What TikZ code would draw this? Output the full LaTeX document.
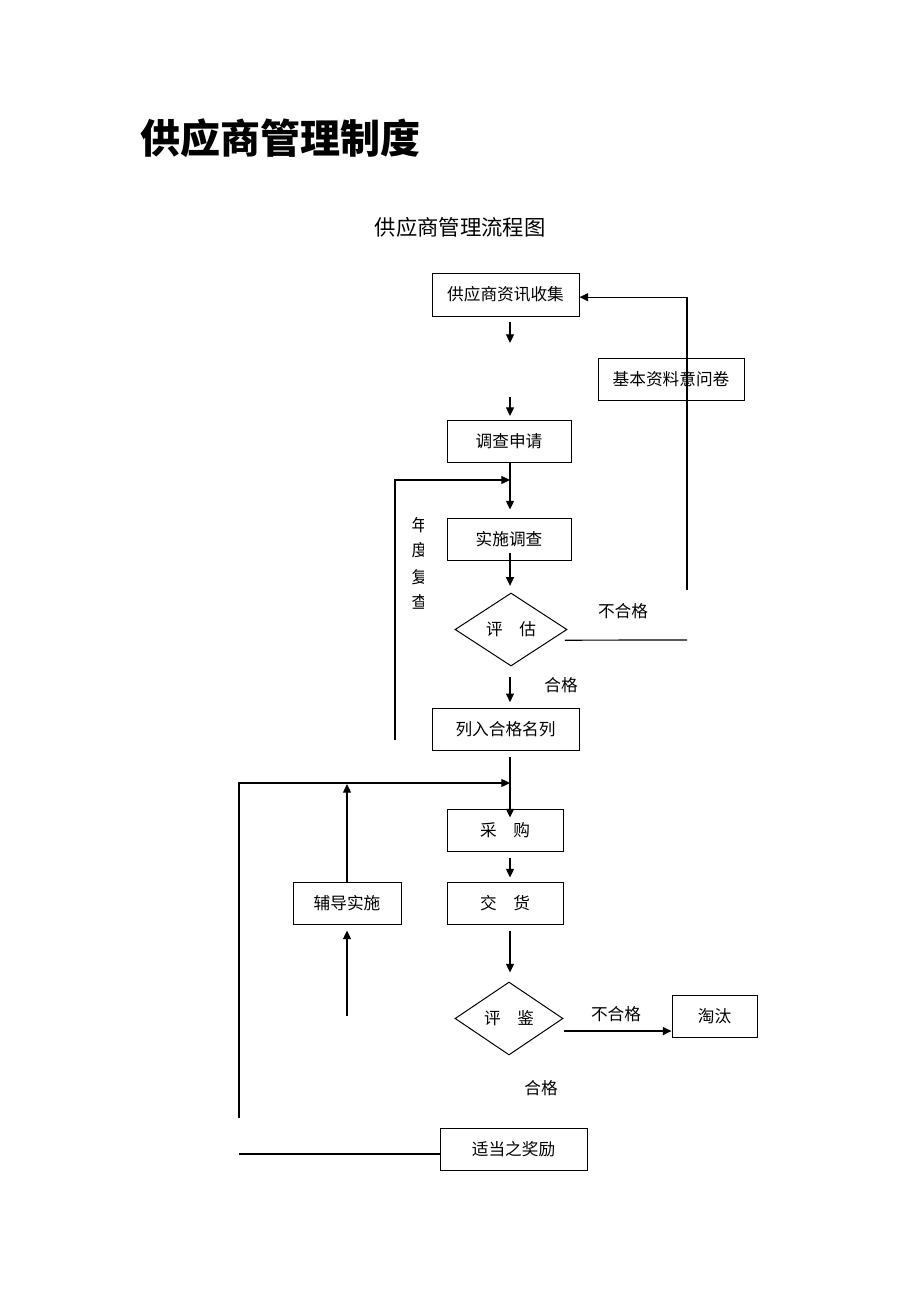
\documentclass[tikz,border=0pt]{standalone}
\usepackage{fontspec}
\newfontfamily\cjk{Noto Sans CJK SC}
\usetikzlibrary{arrows.meta,shapes.geometric}
\begin{document}
\begin{tikzpicture}[x=0.75pt,y=-0.75pt,
  txt/.style={font=\cjk\fontsize{12.5}{14}\selectfont},
  box/.style={draw, line width=0.75pt, inner sep=0pt, txt},
  dia/.style={draw, diamond, line width=0.75pt, inner sep=0pt, txt, minimum height=54.75pt},
  lbl/.style={inner sep=0pt, txt},
  ln/.style={line width=0.9pt},
  arr/.style={ln, -{Triangle[length=6.5pt,width=6pt]}}]
\fill[white] (0,0) rectangle (920,1302);
\useasboundingbox (0,0) rectangle (920,1302);

% titles
\node[anchor=west, inner sep=0pt, font=\cjk\bfseries\fontsize{30}{36}\selectfont] (title) at (140,138) {供应商管理制度};
\node[inner sep=0pt, font=\cjk\fontsize{16}{19}\selectfont] (sub) at (460,227) {供应商管理流程图};

% boxes
\node[box, minimum width=110.25pt, minimum height=32.25pt] (b1) at (505.5,294.5) {供应商资讯收集};
\node[box, minimum width=109.5pt, minimum height=31.5pt] (b2) at (671,379) {基本资料意问卷};
\node[box, minimum width=93pt, minimum height=31.5pt] (b3) at (509,441) {调查申请};
\node[box, minimum width=93pt, minimum height=31.5pt] (b4) at (509,539) {实施调查};
\node[dia, minimum width=84pt] (d1) at (511,629.5) {评\hspace{1em}估};
\node[box, minimum width=110.25pt, minimum height=31.5pt] (b5) at (505.5,729) {列入合格名列};
\node[box, minimum width=87pt, minimum height=31.5pt] (b6) at (505,830) {采\hspace{1em}购};
\node[box, minimum width=87pt, minimum height=31.5pt] (b7) at (505,903) {交\hspace{1em}货};
\node[box, minimum width=81pt, minimum height=31.5pt] (b8) at (347,903) {辅导实施};
\node[dia, minimum width=81pt] (d2) at (509,1018.5) {评\hspace{1em}鉴};
\node[box, minimum width=63.75pt, minimum height=31.5pt] (b9) at (714.5,1016) {淘汰};
\node[box, minimum width=110.25pt, minimum height=31.5pt] (b10) at (513.5,1149) {适当之奖励};

% labels
\node[lbl] (n1) at (623,611) {不合格};
\node[lbl] (p1) at (561,685) {合格};
\node[lbl] (n2) at (616,1014) {不合格};
\node[lbl] (p2) at (541,1088) {合格};

% clipped vertical text
\begin{scope}
\clip (380,505) rectangle (423,620);
\node[lbl] (y1) at (420,525) {年};
\node[lbl] (y2) at (420,550) {度};
\node[lbl] (y3) at (420,577) {复};
\node[lbl] (y4) at (420,602) {查};
\end{scope}

% coordinates
\coordinate (cx) at (510,0);
\coordinate (a1s) at (510,322);
\coordinate (a1e) at (510,343);
\coordinate (a2s) at (510,397);
\coordinate (a2e) at (510,416);
\coordinate (r1) at (687,590);
\coordinate (r2) at (687,640);
\coordinate (l1) at (395,740);
\coordinate (j1) at (510,480);
\coordinate (l2) at (239,1118);
\coordinate (j2) at (510,783);
\coordinate (k2) at (347,784);
\coordinate (k3) at (347,1016);
\coordinate (l3) at (239,1154);

% connectors
\draw[arr] (a1s) -- (a1e);
\draw[arr] (a2s) -- (a2e);
\draw[arr] (r1) |- ([yshift=-2pt]b1.east);
\draw[ln] ([xshift=-2pt,yshift=-8pt]d1.east) -- (r2);
\draw[arr] (l1) |- (j1);
\draw[arr, shorten >=6pt] (b3.south -| cx) -- (b4.north -| cx);
\draw[arr, shorten >=5pt] ([yshift=6pt]b4.south -| cx) -- (d1.north -| cx);
\draw[arr, shorten <=8pt, shorten >=4pt] (d1.south -| cx) -- (b5.north -| cx);
\draw[arr, shorten <=5pt, shorten >=-6.75pt] (b5.south -| cx) -- (b6.north -| cx);
\draw[arr] (l2) |- (j2);
\draw[arr] (b8.north) -- (k2);
\draw[arr, shorten >=4.5pt] (k3) -- (b8.south);
\draw[arr, shorten <=4.5pt, shorten >=3pt] (b6.south -| cx) -- (b7.north -| cx);
\draw[arr, shorten <=4.5pt, shorten >=6.75pt] (b7.south -| cx) -- (d2.north -| cx);
\draw[arr] ([yshift=-9.4pt]d2.east) -- ([yshift=-9.4pt]d2.east -| b9.west);
\draw[ln] ([yshift=-3.75pt]b10.west) -- (l3);
\end{tikzpicture}
\end{document}
